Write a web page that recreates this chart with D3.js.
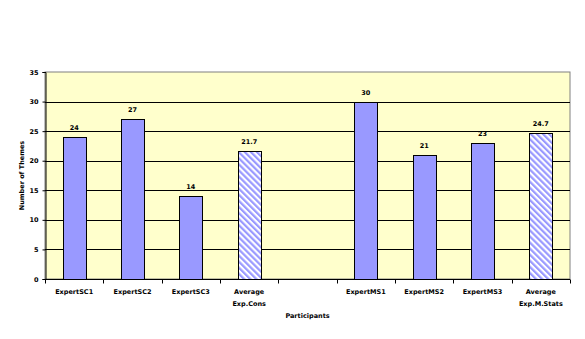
<!DOCTYPE html>
<html><head><meta charset="utf-8">
<script src="https://cdn.jsdelivr.net/npm/d3@7"></script>
<style>body{margin:0;background:#fff}svg{display:block}text{font-family:"DejaVu Sans",Verdana,sans-serif}</style>
</head><body>
<script>
const categories = [["ExpertSC1"],["ExpertSC2"],["ExpertSC3"],["Average","Exp.Cons"],[""],["ExpertMS1"],["ExpertMS2"],["ExpertMS3"],["Average","Exp.M.Stats"]];
const values = [24, 27, 14, 21.7, null, 30, 21, 23, 24.7];
const labels = ["24","27","14","21.7","","30","21","23","24.7"];
const isAverage = [false,false,false,true,false,false,false,false,true];
const yTicks = [0,5,10,15,20,25,30,35];

const W=585,H=339;
const m={l:45,r:15,t:72,b:60};
const fs=6.5;
const svg=d3.select("body").append("svg").attr("width",W).attr("height",H);
const defs=svg.append("defs");
const pat=defs.append("pattern").attr("id","hatch").attr("patternUnits","userSpaceOnUse")
  .attr("width",4.3).attr("height",4.3).attr("patternTransform","rotate(-45)");
pat.append("rect").attr("width",4.3).attr("height",4.3).attr("fill","#fff");
pat.append("rect").attr("x",0).attr("y",0).attr("width",2.2).attr("height",4.3).attr("fill","#9999FF");

const x=d3.scaleBand().domain(d3.range(categories.length)).range([m.l,W-m.r]).paddingInner(0).paddingOuter(0);
const y=d3.scaleLinear().domain([0,35]).range([H-m.b,m.t]);
const pw=W-m.r-m.l;

svg.append("rect").attr("x",m.l).attr("y",m.t).attr("width",pw).attr("height",H-m.b-m.t)
  .attr("fill","#FFFFCC").attr("stroke","#808080").attr("stroke-width",1);

svg.append("g").selectAll("line").data(yTicks.slice(1,-1)).join("line")
  .attr("x1",m.l).attr("x2",W-m.r).attr("y1",d=>Math.round(y(d))+0.5).attr("y2",d=>Math.round(y(d))+0.5)
  .attr("stroke","#000");

const bw=x.bandwidth()*0.4;
const bars=svg.append("g");
values.forEach((v,i)=>{
  if(v==null) return;
  const cx=x(i)+x.bandwidth()/2;
  bars.append("rect").attr("x",Math.round(cx-bw/2)+0.5).attr("y",Math.round(y(v))+0.5)
    .attr("width",Math.round(bw)).attr("height",Math.round(y(0))-Math.round(y(v)))
    .attr("fill",isAverage[i]?"url(#hatch)":"#9999FF").attr("stroke","#000").attr("stroke-width",1);
  bars.append("text").attr("x",cx).attr("y",y(v)-7).attr("text-anchor","middle")
    .attr("font-size",fs).attr("font-weight","bold").text(labels[i]);
});

// axes
const ya=svg.append("g").attr("transform",`translate(${m.l+0.5},0)`)
  .call(d3.axisLeft(y).tickValues(yTicks).tickSize(3).tickPadding(4));
ya.selectAll("text").attr("font-size",fs).attr("font-weight","bold").attr("font-family","DejaVu Sans");
ya.select(".domain").attr("stroke","#000");

const xg=svg.append("g").attr("transform",`translate(0,${Math.round(y(0))+0.5})`);
xg.append("line").attr("x1",m.l).attr("x2",W-m.r).attr("stroke","#000");
xg.selectAll("line.t").data(d3.range(categories.length+1)).join("line").attr("class","t")
  .attr("x1",i=>Math.round(m.l+i*x.bandwidth())+0.5).attr("x2",i=>Math.round(m.l+i*x.bandwidth())+0.5)
  .attr("y1",0).attr("y2",4).attr("stroke","#000");
categories.forEach((c,i)=>{
  const t=xg.append("text").attr("text-anchor","middle").attr("font-size",fs).attr("font-weight","bold");
  c.forEach((ln,j)=>t.append("tspan").attr("x",x(i)+x.bandwidth()/2).attr("y",14+j*12).text(ln));
});

svg.append("text").attr("x",(m.l+W-m.r)/2).attr("y",318).attr("text-anchor","middle")
  .attr("font-size",fs).attr("font-weight","bold").text("Participants");
svg.append("text").attr("transform",`translate(24,${(m.t+H-m.b)/2}) rotate(-90)`).attr("text-anchor","middle")
  .attr("font-size",fs).attr("font-weight","bold").text("Number of Themes");
</script>
</body></html>
